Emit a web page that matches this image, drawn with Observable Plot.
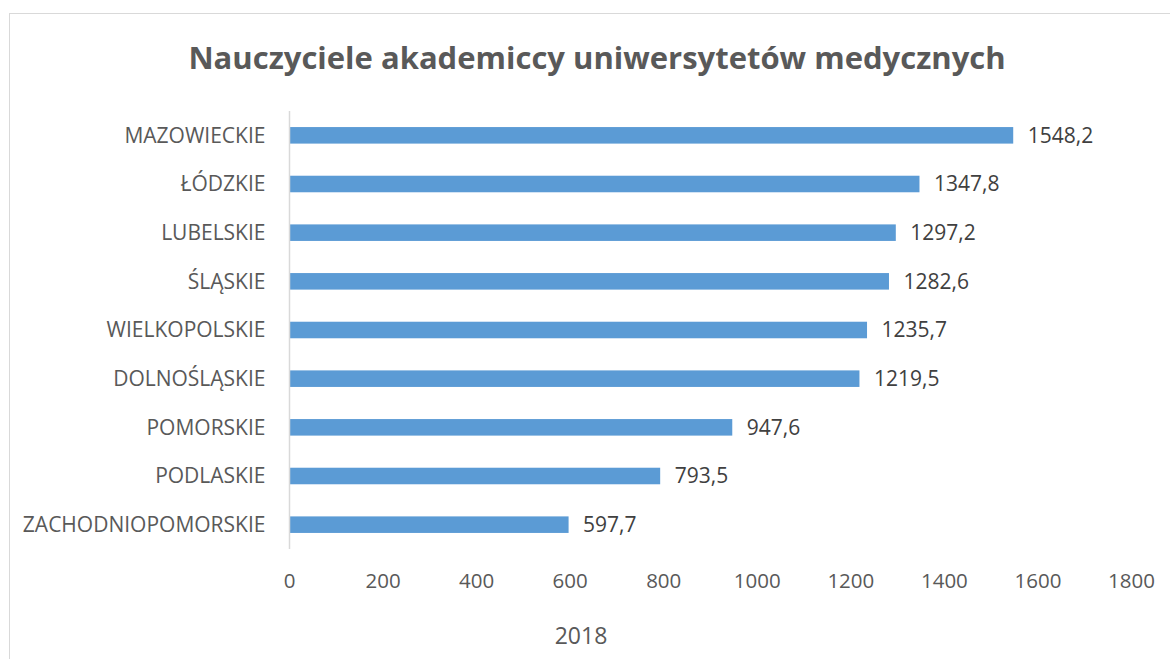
<!DOCTYPE html>
<html>
<head>
<meta charset="utf-8">
<script src="https://cdn.jsdelivr.net/npm/d3@7"></script>
<script src="https://cdn.jsdelivr.net/npm/@observablehq/plot@0.6"></script>
<style>
  html, body { margin: 0; padding: 0; background: #fff; }
  #wrap { position: relative; width: 1170px; height: 659px; overflow: hidden; font-family: "Open Sans", sans-serif; }
  #frame { position: absolute; left: 9px; top: 13px; width: 1170px; height: 700px; border: 1px solid #d9d9d9; box-sizing: border-box; }
  #title { position: absolute; left: 0; top: 33px; width: 1194px; text-align: center; font-size: 31px; font-weight: bold; color: #595959; line-height: 48px; }
  #chart { position: absolute; left: 0; top: 90px; }
  #xlabel { position: absolute; left: 0; top: 619px; width: 1162px; text-align: center; font-size: 23px; color: #595959; line-height: 32px; }
</style>
</head>
<body>
<div id="wrap">
  <div id="frame"></div>
  <div id="title">Nauczyciele akademiccy uniwersytetów medycznych</div>
  <div id="chart"></div>
  <div id="xlabel">2018</div>
</div>
<script>
const categories = ["MAZOWIECKIE", "ŁÓDZKIE", "LUBELSKIE", "ŚLĄSKIE", "WIELKOPOLSKIE", "DOLNOŚLĄSKIE", "POMORSKIE", "PODLASKIE", "ZACHODNIOPOMORSKIE"];
const values = [1548.2, 1347.8, 1297.2, 1282.6, 1235.7, 1219.5, 947.6, 793.5, 597.7];
const xTicks = [0, 200, 400, 600, 800, 1000, 1200, 1400, 1600, 1800];

const data = categories.map((c, i) => ({region: c, value: values[i]}));
const fmt = v => v.toFixed(1).replace(".", ",");

const chart = Plot.plot({
  width: 1170,
  height: 569,
  marginTop: 21,
  marginBottom: 110,
  marginLeft: 289,
  marginRight: 39,
  style: { fontFamily: "Open Sans, sans-serif", fontSize: "20px", color: "#595959", background: "transparent" },
  x: { domain: [0, 1800], ticks: xTicks, label: null },
  y: { domain: categories, paddingInner: 0.66, paddingOuter: 0.33, round: false, label: null },
  marks: [
    Plot.barX(data, { y: "region", x: "value", fill: "#5B9BD5" }),
    Plot.ruleX([0], { stroke: "#d9d9d9", strokeWidth: 1.5 }),
    Plot.axisX({ ticks: xTicks, tickSize: 0, tickPadding: 24, fontSize: 20.5, fill: "#595959", label: null, tickFormat: d => String(d) }),
    Plot.axisY({ tickSize: 0, tickPadding: 24, fontSize: 21, fill: "#595959", label: null }),
    Plot.text(data, { y: "region", x: "value", text: d => fmt(d.value), textAnchor: "start", dx: 14, fill: "#404040", fontSize: 21 })
  ]
});
document.getElementById("chart").appendChild(chart);
</script>
</body>
</html>
